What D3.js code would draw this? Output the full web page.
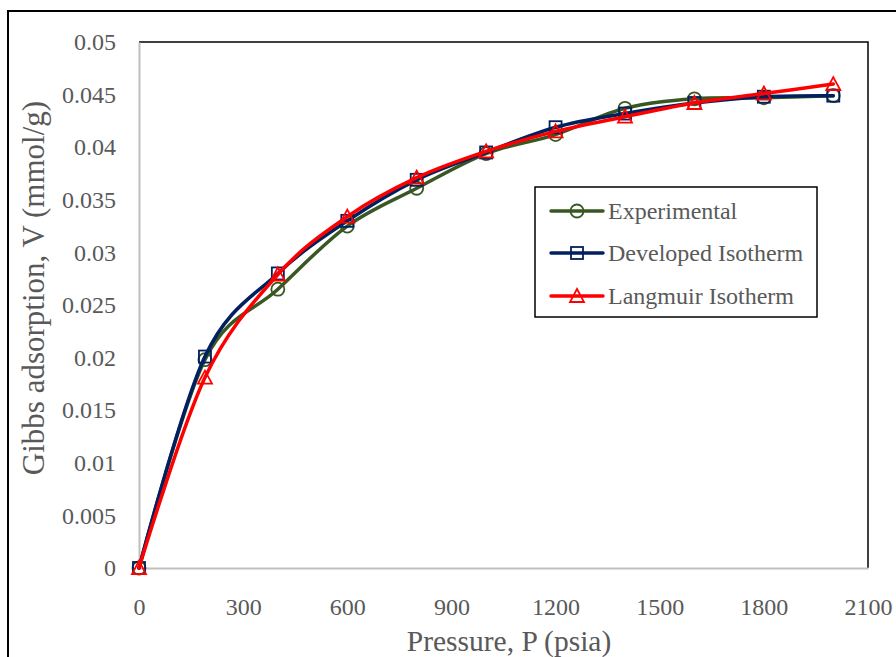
<!DOCTYPE html>
<html>
<head>
<meta charset="utf-8">
<script src="https://cdn.jsdelivr.net/npm/d3@7"></script>
<style>
  html, body { margin: 0; padding: 0; background: #fff; }
  svg { display: block; }
  text { font-family: "Liberation Serif", "Times New Roman", serif; fill: #595959; }
</style>
</head>
<body>
<svg id="chart" width="896" height="657"></svg>
<script>
// Pressure steps (psia) and adsorbed amounts (mmol/g)
const pressure = [0, 190, 400, 600, 800, 1000, 1200, 1400, 1600, 1800, 2000];
const experimental = [0, 0.0198, 0.0265, 0.0325, 0.0361, 0.0394, 0.0412, 0.0437, 0.0446, 0.0447, 0.0449];
const developed = [0, 0.0201, 0.0280, 0.0330, 0.0369, 0.0395, 0.0419, 0.0432, 0.0442, 0.0448, 0.0449];
const langmuir = [0, 0.0181, 0.0279, 0.0334, 0.0371, 0.0396, 0.0415, 0.0429, 0.0442, 0.0451, 0.0460];

const xTicks = [0, 300, 600, 900, 1200, 1500, 1800, 2100];
const yTicks = [0, 0.005, 0.01, 0.015, 0.02, 0.025, 0.03, 0.035, 0.04, 0.045, 0.05];

const seriesNames = ["Experimental", "Developed Isotherm", "Langmuir Isotherm"];
const seriesColors = ["#385723", "#002060", "#ff0000"];
const seriesMarkers = ["circle", "square", "triangle"];
const seriesValues = [experimental, developed, langmuir];

const svg = d3.select("#chart");
const plot = { left: 139, top: 42, right: 868, bottom: 568 };

const x = d3.scaleLinear().domain([0, 2100]).range([plot.left, plot.right]);
const y = d3.scaleLinear().domain([0, 0.05]).range([plot.bottom, plot.top]);

// Outer chart frame
svg.append("rect")
  .attr("x", 8).attr("y", 11).attr("width", 900).attr("height", 660)
  .attr("fill", "none").attr("stroke", "#000").attr("stroke-width", 2);

// Plot area frame (top and right edges)
svg.append("path")
  .attr("d", `M${plot.left},${plot.top}H${plot.right}V${plot.bottom}`)
  .attr("fill", "none").attr("stroke", "#000").attr("stroke-width", 1.5);

// Axes
const xAxis = svg.append("g")
  .attr("transform", `translate(0,${plot.bottom})`)
  .call(d3.axisBottom(x).tickValues(xTicks).tickSize(0).tickPadding(39).tickFormat(d3.format("d")));
const yAxis = svg.append("g")
  .attr("transform", `translate(${plot.left},0)`)
  .call(d3.axisLeft(y).tickValues(yTicks).tickSize(0).tickPadding(23).tickFormat(d => d === 0 ? "0" : String(+d.toFixed(3))));

[xAxis, yAxis].forEach(g => {
  g.select(".domain").attr("stroke", "#bfbfbf").attr("stroke-width", 2);
  g.selectAll("text")
    .style("font-family", '"Liberation Serif", "Times New Roman", serif')
    .style("font-size", "24px").attr("fill", "#595959");
});
xAxis.selectAll("text").attr("dy", "0.35em");

// Axis titles
svg.append("text")
  .attr("x", 509).attr("y", 651)
  .attr("text-anchor", "middle")
  .style("font-size", "29.5px")
  .text("Pressure, P (psia)");
svg.append("text")
  .attr("transform", "translate(44,288) rotate(-90)")
  .attr("text-anchor", "middle")
  .style("font-size", "31px")
  .text("Gibbs adsorption, V (mmol/g)");

// Marker drawing helper
function marker(g, type, cx, cy, color) {
  const sw = 1.8;
  if (type === "circle") {
    g.append("circle").attr("cx", cx).attr("cy", cy).attr("r", 6.5)
      .attr("fill", "none").attr("stroke", color).attr("stroke-width", sw);
  } else if (type === "square") {
    g.append("rect").attr("x", cx - 6).attr("y", cy - 6).attr("width", 12).attr("height", 12)
      .attr("fill", "none").attr("stroke", color).attr("stroke-width", sw);
  } else {
    g.append("path")
      .attr("d", `M${cx},${cy - 7}L${cx + 7},${cy + 6}L${cx - 7},${cy + 6}Z`)
      .attr("fill", "none").attr("stroke", color).attr("stroke-width", sw);
  }
}

const line = d3.line()
  .x(d => x(d[0]))
  .y(d => y(d[1]))
  .curve(d3.curveCatmullRom.alpha(0));

seriesValues.forEach((vals, i) => {
  const pts = pressure.map((p, j) => [p, vals[j]]);
  const g = svg.append("g");
  g.append("path").datum(pts).attr("d", line)
    .attr("fill", "none").attr("stroke", seriesColors[i]).attr("stroke-width", 3.5)
    .attr("stroke-linejoin", "round").attr("stroke-linecap", "round");
  pts.forEach(d => marker(g, seriesMarkers[i], x(d[0]), y(d[1]), seriesColors[i]));
});

// Legend
const legend = svg.append("g");
legend.append("rect")
  .attr("x", 535).attr("y", 187).attr("width", 282).attr("height", 130)
  .attr("fill", "#fff").attr("stroke", "#000").attr("stroke-width", 1.5);
const rowY = [211, 253, 296];
seriesNames.forEach((name, i) => {
  const ry = rowY[i];
  legend.append("line")
    .attr("x1", 551).attr("x2", 603).attr("y1", ry).attr("y2", ry)
    .attr("stroke", seriesColors[i]).attr("stroke-width", 3.5).attr("stroke-linecap", "round");
  marker(legend, seriesMarkers[i], 577, ry, seriesColors[i]);
  legend.append("text")
    .attr("x", 608).attr("y", ry).attr("dy", "0.35em")
    .style("font-size", "24px")
    .text(name);
});
</script>
</body>
</html>
